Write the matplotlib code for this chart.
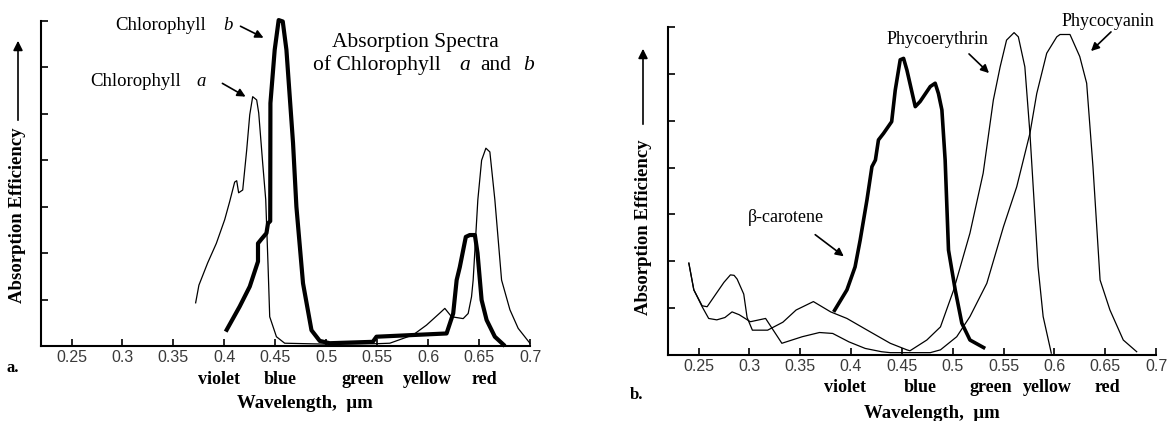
import matplotlib
matplotlib.use("Agg")
import matplotlib.pyplot as plt

plt.rcParams['font.family'] = ['Liberation Serif', 'DejaVu Serif']

# ---- panel a: chlorophyll a and b ----
chla_x = [0.3718, 0.3750, 0.3836, 0.3921, 0.4003, 0.4052, 0.4101, 0.4121, 0.4140, 0.4180,
          0.4219, 0.4249, 0.4278, 0.4317, 0.4337, 0.4376, 0.4406, 0.4428, 0.4445, 0.4511,
          0.4592, 0.50, 0.55, 0.5624, 0.5853, 0.5984, 0.6115, 0.6164, 0.6230, 0.6344,
          0.6393, 0.6426, 0.6442, 0.6488, 0.6525, 0.6567, 0.6606, 0.6655, 0.6721, 0.6803,
          0.6884, 0.6999]
chla_y = [0.93, 1.31, 1.79, 2.21, 2.72, 3.11, 3.53, 3.56, 3.30, 3.36,
          4.22, 4.98, 5.37, 5.30, 5.02, 3.94, 3.15, 1.78, 0.63, 0.20,
          0.06, 0.04, 0.05, 0.06, 0.24, 0.45, 0.71, 0.81, 0.63, 0.59,
          0.70, 1.06, 1.42, 3.15, 4.00, 4.26, 4.18, 3.15, 1.42, 0.78,
          0.38, 0.06]

chlb_x = [0.4013, 0.4150, 0.4249, 0.4330, 0.4330, 0.4363, 0.4413, 0.4428, 0.4450, 0.4452,
          0.4494, 0.4533, 0.4573, 0.4609, 0.4674, 0.4707, 0.4772, 0.4855, 0.4936, 0.5034,
          0.5457, 0.5493, 0.6181, 0.6246, 0.6280, 0.6311, 0.6370, 0.6409, 0.6459, 0.6485,
          0.6508, 0.6525, 0.6574, 0.6655, 0.6754]
chlb_y = [0.31, 0.85, 1.28, 1.82, 2.21, 2.30, 2.43, 2.64, 2.69, 5.23,
          6.38, 7.02, 6.99, 6.38, 4.37, 3.00, 1.35, 0.34, 0.11, 0.06,
          0.09, 0.20, 0.27, 0.70, 1.42, 1.70, 2.35, 2.39, 2.39, 2.00,
          1.42, 0.99, 0.56, 0.20, 0.00]

# ---- panel b: accessory pigments ----
bcar_x = [0.3829, 0.396, 0.404, 0.409, 0.4157, 0.4206, 0.424, 0.427, 0.432, 0.440,
          0.4435, 0.4484, 0.4517, 0.455, 0.4632, 0.468, 0.478, 0.4828, 0.486, 0.4894,
          0.4926, 0.4959, 0.5025, 0.509, 0.517, 0.532]
bcar_y = [0.92, 1.39, 1.88, 2.45, 3.31, 4.02, 4.16, 4.59, 4.73, 4.98,
          5.65, 6.30, 6.33, 6.08, 5.30, 5.41, 5.73, 5.80, 5.58, 5.23,
          4.16, 2.24, 1.39, 0.68, 0.32, 0.14]

pe_x = [0.2405, 0.2454, 0.2536, 0.2585, 0.268, 0.275, 0.2814, 0.285, 0.288, 0.2945,
        0.2978, 0.303, 0.318, 0.333, 0.346, 0.363, 0.380, 0.396, 0.416, 0.4386,
        0.455, 0.458, 0.4746, 0.488, 0.501, 0.517, 0.530, 0.540, 0.5467, 0.553,
        0.5604, 0.5646, 0.571, 0.576, 0.581, 0.584, 0.589, 0.597]
pe_y = [1.96, 1.39, 1.05, 1.03, 1.33, 1.55, 1.71, 1.70, 1.62, 1.30,
        0.80, 0.53, 0.53, 0.70, 0.96, 1.14, 0.92, 0.78, 0.53, 0.25,
        0.11, 0.09, 0.32, 0.60, 1.39, 2.60, 3.88, 5.44, 6.15, 6.72,
        6.88, 6.79, 6.15, 4.73, 2.95, 1.88, 0.82, 0.04]

pc_x = [0.2405, 0.2454, 0.2536, 0.260, 0.268, 0.276, 0.283, 0.290, 0.301, 0.316,
        0.332, 0.352, 0.369, 0.382, 0.398, 0.414, 0.430, 0.4386, 0.478, 0.488,
        0.504, 0.517, 0.5336, 0.550, 0.563, 0.576, 0.5827, 0.5925, 0.6024, 0.6056,
        0.6154, 0.625, 0.6318, 0.638, 0.645, 0.6547, 0.6678, 0.681]
pc_y = [1.96, 1.39, 1.03, 0.78, 0.75, 0.80, 0.92, 0.86, 0.71, 0.78,
        0.25, 0.39, 0.48, 0.46, 0.28, 0.14, 0.07, 0.05, 0.05, 0.11,
        0.39, 0.82, 1.53, 2.74, 3.59, 4.73, 5.58, 6.44, 6.79, 6.84,
        6.84, 6.37, 5.80, 4.02, 1.60, 0.96, 0.32, 0.07]

xticks = [0.25, 0.3, 0.35, 0.4, 0.45, 0.5, 0.55, 0.6, 0.65, 0.7]
xticklabels = ['0.25', '0.3', '0.35', '0.4', '0.45', '0.5', '0.55', '0.6', '0.65', '0.7']
yticks = [0, 1, 2, 3, 4, 5, 6, 7]
colour_names = ['violet', 'blue', 'green', 'yellow', 'red']

W, H = 1172, 421
fig = plt.figure(figsize=(W / 100, H / 100), dpi=100)


def P(px, py):
    # pixel (top-left origin) -> figure fraction
    return (px / W, 1 - py / H)


def setup(ax):
    ax.set_xlim(0.22, 0.70)
    ax.set_ylim(0, 7)
    for s in ['top', 'right']:
        ax.spines[s].set_visible(False)
    for s in ['left', 'bottom']:
        ax.spines[s].set_linewidth(1.5)
    ax.set_xticks(xticks)
    ax.set_xticklabels(xticklabels, family='Liberation Sans', fontsize=11.5, color='#3a3a3a')
    ax.set_yticks(yticks)
    ax.set_yticklabels([])
    ax.tick_params(direction='in', length=5, width=1.2, pad=3)
    ax.patch.set_alpha(0)


def text(px, py, s, **kw):
    x, y = P(px, py)
    kw.setdefault('ha', 'center')
    kw.setdefault('va', 'center')
    fig.text(x, y, s, **kw)


def arrow(x0, y0, x1, y1, ms=14):
    fig.add_artist(matplotlib.patches.FancyArrowPatch(
        P(x0, y0), P(x1, y1), transform=fig.transFigure,
        arrowstyle='-|>', mutation_scale=ms, lw=1.2, color='black'))


# left panel
axa = fig.add_axes([41 / W, 1 - 346 / H, (530 - 41) / W, (346 - 21) / H])
setup(axa)
axa.plot(chla_x, chla_y, color='black', lw=0.9, clip_on=False)
axa.plot(chlb_x, chlb_y, color='black', lw=3.0, clip_on=False,
         solid_capstyle='butt', solid_joinstyle='round')

# right panel
axb = fig.add_axes([668 / W, 1 - 355 / H, (1156 - 668) / W, (355 - 27) / H])
setup(axb)
axb.plot(pe_x, pe_y, color='black', lw=0.9, clip_on=False)
axb.plot(pc_x, pc_y, color='black', lw=0.9, clip_on=False)
axb.plot(bcar_x, bcar_y, color='black', lw=2.6, clip_on=False,
         solid_capstyle='butt', solid_joinstyle='round')

# panel letters
text(13, 368, 'a.', fontsize=12, weight='bold')
text(637, 395, 'b.', fontsize=12, weight='bold')

# colour band names
for name, px in zip(colour_names, [219, 280, 363, 427, 484]):
    text(px, 379, name, fontsize=13, weight='bold')
for name, px in zip(colour_names, [845, 920, 991, 1047, 1107]):
    text(px, 387, name, fontsize=13, weight='bold')

text(305, 403, 'Wavelength,  \u03bcm', fontsize=13.5, weight='bold')
text(932, 413, 'Wavelength,  \u03bcm', fontsize=13.5, weight='bold')

# y labels with arrows
text(18, 215, 'Absorption Efficiency', fontsize=13.5, weight='bold', rotation=90)
arrow(18, 123, 18, 38)
text(643, 227, 'Absorption Efficiency', fontsize=13.5, weight='bold', rotation=90)
arrow(643, 127, 643, 46)

# left annotations
text(115, 25, 'Chlorophyll', fontsize=13.5, ha='left')
text(228, 25, 'b', fontsize=13.5, style='italic')
arrow(238, 25, 266, 39, ms=12)
text(90, 82, 'Chlorophyll', fontsize=13.5, ha='left')
text(201, 82, 'a', fontsize=13.5, style='italic')
arrow(220, 82, 248, 98, ms=12)

text(415, 43, 'Absorption Spectra', fontsize=15.5)
text(313, 65, 'of Chlorophyll', fontsize=15.5, ha='left')
text(465, 65, 'a', fontsize=15.5, style='italic')
text(496, 65, 'and', fontsize=15.5)
text(529, 65, 'b', fontsize=15.5, style='italic')

# right annotations
text(786, 218, '\u03b2-carotene', fontsize=13)
arrow(813, 233, 846, 258, ms=12)
text(937, 40, 'Phycoerythrin', fontsize=13)
arrow(967, 52, 991, 75, ms=12)
text(1108, 22, 'Phycocyanin', fontsize=13)
arrow(1113, 30, 1089, 53, ms=12)

fig.savefig('out.png', dpi=100)
